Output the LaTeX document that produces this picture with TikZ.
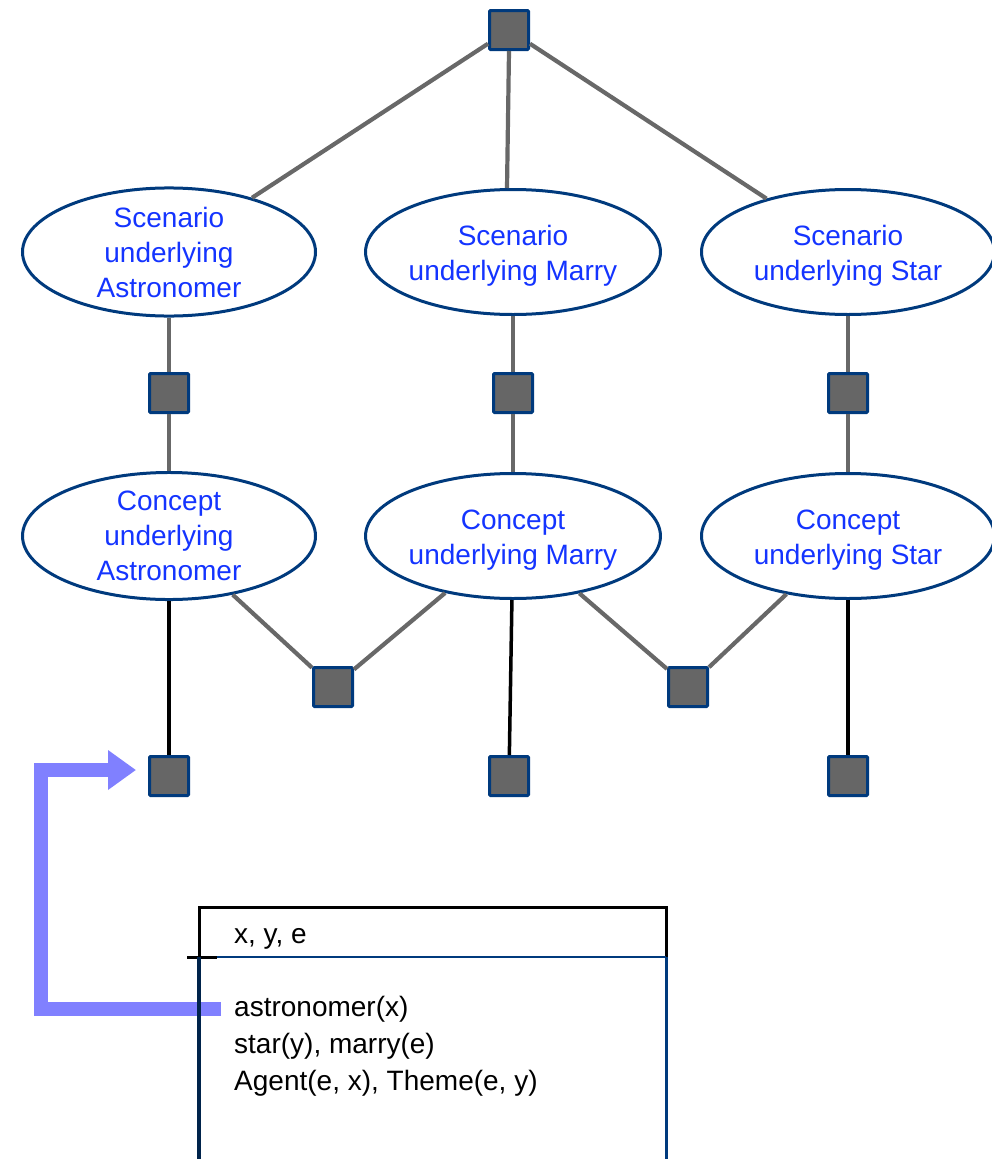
\documentclass[tikz,border=0pt]{standalone}
\usepackage{fontspec}
\setmainfont{Liberation Sans}
\usetikzlibrary{shapes.geometric,arrows.meta,calc}
\definecolor{navy}{RGB}{0,58,125}
\definecolor{sqgray}{RGB}{102,102,102}
\definecolor{linegray}{RGB}{104,104,104}
\definecolor{textblue}{RGB}{20,52,255}
\definecolor{lavender}{RGB}{128,128,255}
% taller first line so two-line labels sit a little lower
\newcommand{\topstrut}{\rule{0pt}{27pt}}
\begin{document}
\begin{tikzpicture}[x=1pt,y=-1pt,
  sq/.style={rectangle, fill=sqgray, draw=navy, line width=3pt,
    minimum size=39pt, inner sep=0pt, rounded corners=1pt},
  idea/.style={ellipse, draw=navy, line width=3pt, fill=white,
    minimum width=293pt, minimum height=125pt, inner sep=0pt,
    align=center, text=textblue, font=\fontsize{28}{35}\selectfont},
  link/.style={draw=linegray, line width=4.2pt},
  anchorlink/.style={draw=black, line width=3.5pt},
  pointer/.style={draw=lavender, line width=14pt,
    -{Triangle[length=28pt,width=38pt]}},
  drstext/.style={font=\fontsize{28}{36}\selectfont, anchor=base west,
    inner sep=0pt}
]
\useasboundingbox (0,0) rectangle (991,1159);

% lattice of scenarios and concepts
\node[sq] (top) at (509,30) {};

\node[idea] (e1) at (169,252) {Scenario\\underlying\\Astronomer};
\node[idea] (e2) at (513,252) {\topstrut Scenario\\underlying Marry};
\node[idea] (e3) at (848,252) {\topstrut Scenario\\underlying Star};

\node[sq] (s1) at (169,393) {};
\node[sq] (s2) at (513,393) {};
\node[sq] (s3) at (848,393) {};

\node[idea] (e4) at (169,536) {Concept\\underlying\\Astronomer};
\node[idea] (e5) at (513,536) {\topstrut Concept\\underlying Marry};
\node[idea] (e6) at (848,536) {\topstrut Concept\\underlying Star};

\node[sq] (m1) at (333,687) {};
\node[sq] (m2) at (688,687) {};

\node[sq] (b1) at (169,776) {};
\node[sq] (b2) at (509,776) {};
\node[sq] (b3) at (848,776) {};

\draw[link] (top) -- (e1);
\draw[link] (top.south) -- ([xshift=-6pt]e2.north);
\draw[link] (top) -- (e3);
\draw[link] (e1) -- (s1);
\draw[link] (e2) -- (s2);
\draw[link] (e3) -- (s3);
\draw[link] (s1) -- (e4);
\draw[link] (s2) -- (e5);
\draw[link] (s3) -- (e6);
\draw[link] (e4) -- (m1);
\draw[link] (e5) -- (m1);
\draw[link] (e5) -- (m2);
\draw[link] (e6) -- (m2);

\draw[anchorlink] (e4) -- (b1);
\draw[anchorlink] (e5) -- (b2);
\draw[anchorlink] (e6) -- (b3);

% DRS box contents
\node[drstext] (vars) at (234,943) {x, y, e};
\node[drstext] (c1) at (234,1016) {astronomer(x)};
\node[drstext] (c2) at (234,1053) {star(y), marry(e)};
\node[drstext] (c3) at (234,1090) {Agent(e, x), Theme(e, y)};

% pointer from the condition to its anchor
\coordinate (astro) at ($(c1.base west)+(-13,-7)$);
\coordinate (turn) at (41,1009);
\coordinate (tip) at ($(b1.west)+(-12,-6)$);
\draw[pointer] (astro) -- (turn) |- (tip);

% DRS box frame
\draw[black, line width=3pt] (199,958) -- (199,907) -- (666,907) -- (666,958);
\draw[navy, line width=2.5pt] (199,957) -- (666,957);
\draw[black, line width=3pt] (187,957) -- (217,957);
\draw[navy!60!black, line width=4pt] (199,957) -- (199,1170);
\draw[navy, line width=3pt] (666,957) -- (666,1170);
\end{tikzpicture}
\end{document}
